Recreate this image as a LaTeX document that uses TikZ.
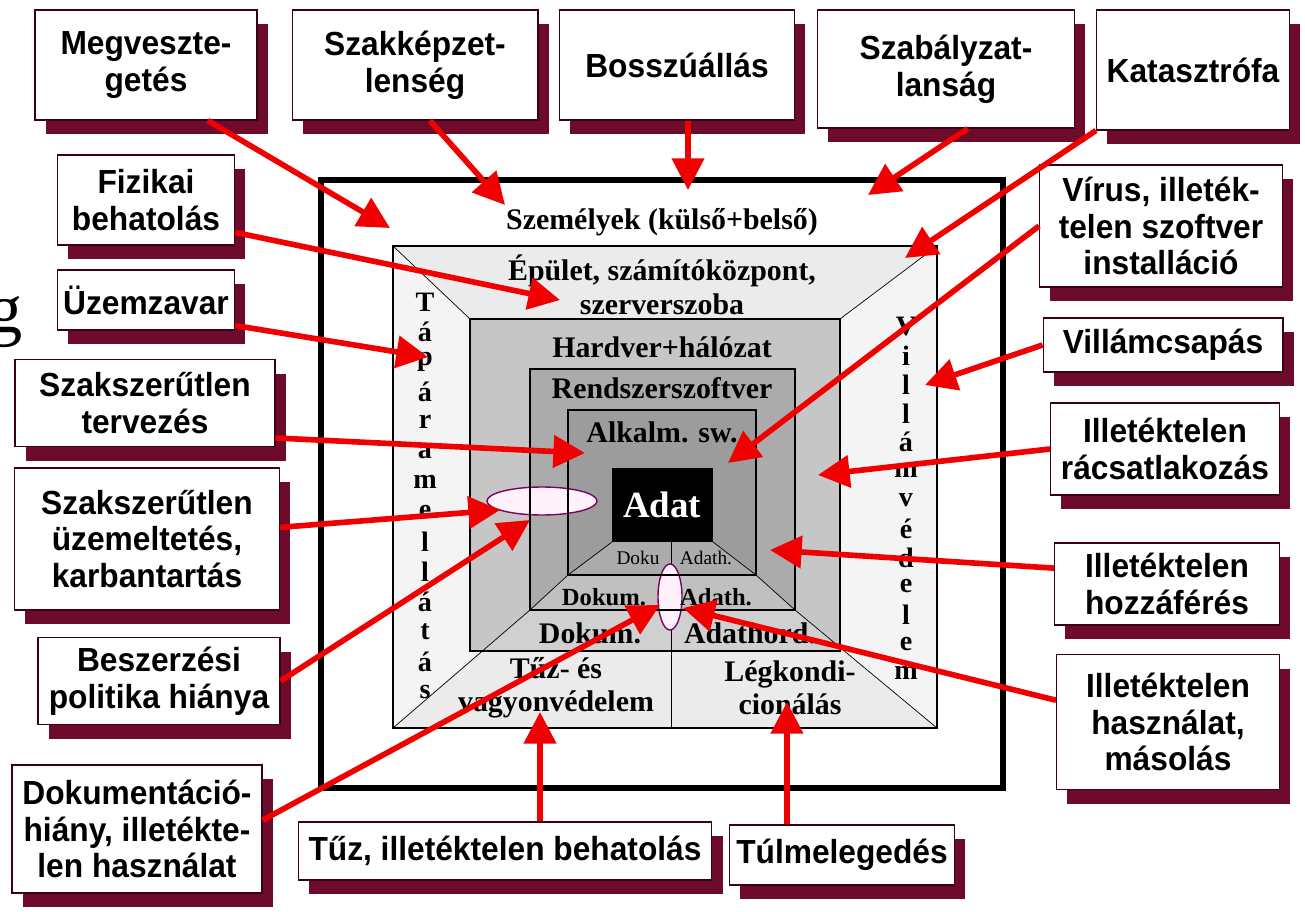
\documentclass[tikz,border=0pt]{standalone}
\usepackage{fontspec}
\setmainfont{Liberation Serif}
\newfontfamily\boxfont[FakeStretch=0.95]{Liberation Sans}
\usetikzlibrary{arrows.meta,shadows}
\definecolor{threatred}{HTML}{F00000}
\definecolor{shadowred}{HTML}{6E0A2A}
\definecolor{boxline}{HTML}{3A0018}
\definecolor{lvlone}{HTML}{EBEBEB}
\definecolor{lvlside}{HTML}{F4F4F4}
\definecolor{lvltwo}{HTML}{C6C6C6}
\definecolor{lvltwobot}{HTML}{D0D0D0}
\definecolor{lvlthree}{HTML}{ABABAB}
\definecolor{lvlthreebot}{HTML}{C0C0C0}
\definecolor{lvlfour}{HTML}{9C9C9C}
\definecolor{lvlfourbot}{HTML}{ABABAB}
\definecolor{holeline}{HTML}{800060}
\definecolor{holefill}{HTML}{FFF2FA}
\tikzset{
  risk/.style={draw=boxline, line width=0.6pt, fill=white, align=center, inner sep=0pt,
    font=\boxfont\bfseries\fontsize{19}{21}\selectfont,
    drop shadow={shadow xshift=6pt, shadow yshift=-8pt, fill=shadowred, opacity=1}},
  threat/.style={draw=threatred, line width=3.2pt, -{Triangle[length=18pt,width=18pt]}},
  layer/.style={font=\bfseries\fontsize{17}{19}\selectfont, inner sep=0pt, align=center},
  hole/.style={draw=holeline, fill=holefill, line width=0.8pt}
}
\begin{document}
\begin{tikzpicture}[x=0.02cm, y=-0.02cm]
\useasboundingbox (0,0) rectangle (1305,912);
\fill[white] (0,0) rectangle (1305,912);
\node[inner sep=0pt, anchor=base west, font=\fontsize{40}{40}\selectfont] (stray) at (-13,332) {g};

% protection layers
\draw[line width=3.4pt] (321,180) rectangle (1003,788);
\fill[lvlone] (393,246) rectangle (937,728);
\fill[lvlside] (393,246) -- (470,319) -- (470,651) -- (482,651) -- (393,728) -- cycle;
\fill[lvlside] (937,246) -- (840,319) -- (840,651) -- (844,651) -- (937,728) -- cycle;
\draw[line width=0.6pt] (393,246) rectangle (937,728);
\fill[lvltwo] (470,319) rectangle (840,651);
\fill[lvltwobot] (482,651) -- (530,610) -- (795,610) -- (840,648) -- (840,651) -- cycle;
\fill[lvlthree] (530,369) rectangle (795,610);
\fill[lvlthreebot] (530,610) -- (568,575) -- (756,575) -- (795,610) -- cycle;
\fill[lvlfour] (568,410) rectangle (756,575);
\fill[lvlfourbot] (568,575) -- (612,542) -- (713,542) -- (756,575) -- cycle;
\fill[black] (612,468) rectangle (713,542);
\draw[line width=0.5pt] (671,542) -- (671,728);
\draw[line width=0.4pt] (393,246) -- (470,319) (937,246) -- (840,319);
\draw[line width=0.4pt] (393,728) -- (530,610) -- (568,575) -- (612,542);
\draw[line width=0.4pt] (937,728) -- (795,610) -- (756,575) -- (713,542);
\draw[hole] (542,501) ellipse [x radius=55, y radius=14];
\draw[hole] (670,597) ellipse [x radius=12, y radius=33];
\draw[line width=0.6pt] (470,319) rectangle (840,651);
\draw[line width=0.6pt] (530,369) rectangle (795,610);
\draw[line width=0.6pt] (568,410) rectangle (756,575);

% layer labels
\node[layer] (szemely) at (662,222) {Személyek (külső+belső)};
\node[layer] (epulet) at (662,285) {Épület, számítóközpont,\\szerverszoba};
\node[layer] (hardver) at (662,347) {Hardver+hálózat};
\node[layer] (rendszer) at (662,388) {Rendszerszoftver};
\node[layer] (alkalm) at (662,432) {Alkalm. sw.};
\node[layer, text=white, font=\bfseries\fontsize{21}{23}\selectfont] (adat) at (662,505) {Adat};
\node[inner sep=0pt, font=\fontsize{11}{12}\selectfont] (doku4) at (638,558) {Doku};
\node[inner sep=0pt, font=\fontsize{11}{12}\selectfont] (adath4) at (706,558) {Adath.};
\node[layer, font=\bfseries\fontsize{14}{15}\selectfont] (doku3) at (604,597) {Dokum.};
\node[layer, font=\bfseries\fontsize{14}{15}\selectfont] (adath3) at (716,597) {Adath.};
\node[layer] (doku2) at (590,633) {Dokum.};
\node[layer] (adath2) at (750,633) {Adathord.};
\node[layer] (tuzved) at (556,688) {Tűz- és\\vagyonvédelem};
\node[layer] (legk) at (790,688) {Légkondi-\\cionálás};
\foreach \ch [count=\i from 0] in {T,á,p,á,r,a,m,e,l,l,á,t,á,s}
  \node[layer, font=\bfseries\fontsize{16}{17}\selectfont] (tap\i) at (425,{302+30*\i}) {\ch};
\foreach \ch [count=\i from 0] in {V,i,l,l,á,m,v,é,d,e,l,e,m}
  \node[layer, font=\bfseries\fontsize{16}{17}\selectfont] (vill\i) at (906,{327+28.8*\i}) {\ch};

% threat boxes
\node[risk, minimum width=4.44cm, minimum height=2.2cm] (megv) at (146,65) {Megveszte-\\getés};
\node[risk, minimum width=4.92cm, minimum height=2.2cm] (szakk) at (415,65) {Szakképzet-\\lenség};
\node[risk, minimum width=4.7cm, minimum height=2.2cm] (bossz) at (677,65) {Bosszúállás};
\node[risk, minimum width=5.14cm, minimum height=2.36cm] (szaba) at (946,69) {Szabályzat-\\lanság};
\node[risk, minimum width=3.86cm, minimum height=2.4cm] (kata) at (1193,70) {Katasztrófa};
\node[risk, minimum width=3.54cm, minimum height=1.8cm] (fiz) at (146,200) {Fizikai\\behatolás};
\node[risk, minimum width=3.54cm, minimum height=1.2cm] (uzem) at (146,300) {Üzemzavar};
\node[risk, minimum width=5.2cm, minimum height=1.74cm] (terv) at (145,403) {Szakszerűtlen\\tervezés};
\node[risk, minimum width=5.3cm, minimum height=2.84cm] (uzemelt) at (147,539) {Szakszerűtlen\\üzemeltetés,\\karbantartás};
\node[risk, minimum width=4.84cm, minimum height=1.74cm] (besz) at (159,681) {Beszerzési\\politika hiánya};
\node[risk, minimum width=5cm, minimum height=2.56cm] (doku) at (137,829) {Dokumentáció-\\hiány, illetékte-\\len használat};
\node[risk, minimum width=8.28cm, minimum height=1.16cm] (tuz) at (505,851) {Tűz, illetéktelen behatolás};
\node[risk, minimum width=4.5cm, minimum height=1.2cm] (tulm) at (842,855) {Túlmelegedés};
\node[risk, minimum width=4.86cm, minimum height=2.44cm] (virus) at (1161,226) {Vírus, illeték-\\telen szoftver\\installáció};
\node[risk, minimum width=4.8cm, minimum height=1.08cm] (villam) at (1163,345) {Villámcsapás};
\node[risk, minimum width=4.58cm, minimum height=1.84cm] (racs) at (1165,449) {Illetéktelen\\rácsatlakozás};
\node[risk, minimum width=4.5cm, minimum height=1.64cm] (hozz) at (1167,584) {Illetéktelen\\hozzáférés};
\node[risk, minimum width=4.46cm, minimum height=2.7cm] (haszn) at (1168,722) {Illetéktelen\\használat,\\másolás};

% arrow tips
\coordinate (tMegv) at (390,228);
\coordinate (tSzakk) at (505,205);
\coordinate (tBossz) at (688,190);
\coordinate (tSzaba) at (868,195);
\coordinate (tKata) at (905,258);
\coordinate (tFiz) at (560,300);
\coordinate (tUzem) at (428,357);
\coordinate (tTerv) at (585,453);
\coordinate (tUzemelt) at (500,510);
\coordinate (tBesz) at (530,520);
\coordinate (tDoku) at (660,605);
\coordinate (tTuz) at (540,712);
\coordinate (tTulm) at (787,702);
\coordinate (tVirus) at (728,463);
\coordinate (tVillam) at (925,385);
\coordinate (tRacs) at (818,475);
\coordinate (tHozz) at (770,550);
\coordinate (tHaszn) at (683,608);

\draw[threat] (megv.-42) -- (tMegv);
\draw[threat] (szakk.-75) -- (tSzakk);
\draw[threat] (bossz.south -| tBossz) -- (tBossz);
\draw[threat] (szaba.-70) -- (tSzaba);
\draw[threat] (kata.south west) -- (tKata);
\draw[threat] (fiz.-20) -- (tFiz);
\draw[threat] (uzem.-16) -- (tUzem);
\draw[threat] (terv.-15) -- (tTerv);
\draw[threat] (uzemelt.5) -- (tUzemelt);
\draw[threat] (besz.east) -- (tBesz);
\draw[threat] (doku.4) -- (tDoku);
\draw[threat] (tuz.north -| tTuz) -- (tTuz);
\draw[threat] (tulm.north -| tTulm) -- (tTulm);
\draw[threat] (virus.west) -- (tVirus);
\draw[threat] (villam.west) -- (tVillam);
\draw[threat] (racs.west) -- (tRacs);
\draw[threat] (hozz.172) -- (tHozz);
\draw[threat] (haszn.169) -- (tHaszn);
\end{tikzpicture}
\end{document}
